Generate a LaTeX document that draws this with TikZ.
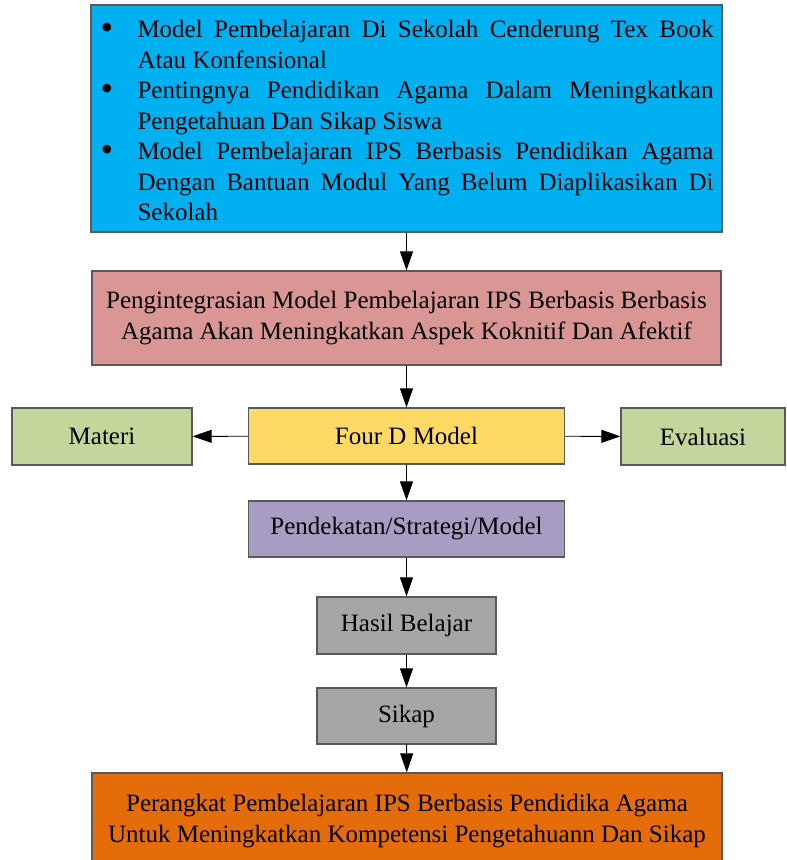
\documentclass[tikz,border=0pt]{standalone}
\usepackage{fontspec}
\setmainfont{Liberation Serif}
\usetikzlibrary{arrows.meta}
\definecolor{kotakbiru}{HTML}{00B0F0}
\definecolor{kotakmerah}{HTML}{D99694}
\definecolor{kotakkuning}{HTML}{FFD966}
\definecolor{kotakhijau}{HTML}{C3D69B}
\definecolor{kotakungu}{HTML}{A99CC3}
\definecolor{kotakabu}{HTML}{A6A6A6}
\definecolor{kotakoranye}{HTML}{E46C0A}
\newcommand{\butir}[1]{\par\noindent\hangindent=37pt\hangafter=1\makebox[37pt][l]{\raisebox{-2pt}{\fontsize{36}{30.5}\selectfont\textbullet}}#1\par}

\begin{document}
\begin{tikzpicture}[x=1pt, y=-1pt,
	kotak/.style={draw=black!65, line width=1.3pt, inner sep=0pt, align=center,
		font=\fontsize{25}{30.5}\selectfont},
	panah/.style={-{Triangle[length=19pt, width=13pt]}, line width=0.9pt}]
	\useasboundingbox (0, 0) rectangle (787, 860);
	\node[kotak, fill=kotakbiru, minimum width=631, minimum height=227] (masalah) at (406.5, 118.5) {};
	\node[font=\fontsize{25}{30.5}\selectfont, text width=613, align=justify, inner sep=0pt]
		(masalahteks) at (407, 114) {\hyphenpenalty=10000
		\butir{Model Pembelajaran Di Sekolah Cenderung Tex Book Atau Konfensional}
		\butir{Pentingnya Pendidikan Agama Dalam Meningkatkan Pengetahuan Dan Sikap Siswa}
		\butir{Model Pembelajaran IPS Berbasis Pendidikan Agama Dengan Bantuan Modul Yang Belum Diaplikasikan Di Sekolah}};
	\node[kotak, fill=kotakmerah, minimum width=629, minimum height=94] (integrasi) at (406.5, 318)
		{Pengintegrasian Model Pembelajaran IPS Berbasis Berbasis\\Agama Akan Meningkatkan Aspek Koknitif Dan Afektif};
	\node[kotak, fill=kotakkuning, minimum width=316, minimum height=56] (fourd) at (406.5, 436) {Four D Model};
	\node[kotak, fill=kotakhijau, minimum width=180, minimum height=57] (materi) at (102, 436.5) {Materi};
	\node[kotak, fill=kotakhijau, minimum width=164, minimum height=57] (evaluasi) at (703, 436.5) {Evaluasi};
	\node[kotak, fill=kotakungu, minimum width=316, minimum height=56] (pendekatan) at (406.5, 529) {Pendekatan/Strategi/Model};
	\node[kotak, fill=kotakabu, minimum width=179, minimum height=57] (hasil) at (406.5, 625.5) {Hasil Belajar};
	\node[kotak, fill=kotakabu, minimum width=179, minimum height=56] (sikap) at (406.5, 716) {Sikap};
	\node[kotak, fill=kotakoranye, minimum width=630, minimum height=96] (perangkat) at (407, 821)
		{Perangkat Pembelajaran IPS Berbasis Pendidika Agama\\Untuk Meningkatkan Kompetensi Pengetahuann Dan Sikap};
	\draw[panah] (masalah) -- (integrasi);
	\draw[panah] (integrasi) -- (fourd);
	\draw[panah] (fourd) -- (materi);
	\draw[panah] (fourd) -- (evaluasi);
	\draw[panah] (fourd) -- (pendekatan);
	\draw[panah] (pendekatan) -- (hasil);
	\draw[panah] (hasil) -- (sikap);
	\draw[panah] (sikap) -- (perangkat);
\end{tikzpicture}
\end{document}
